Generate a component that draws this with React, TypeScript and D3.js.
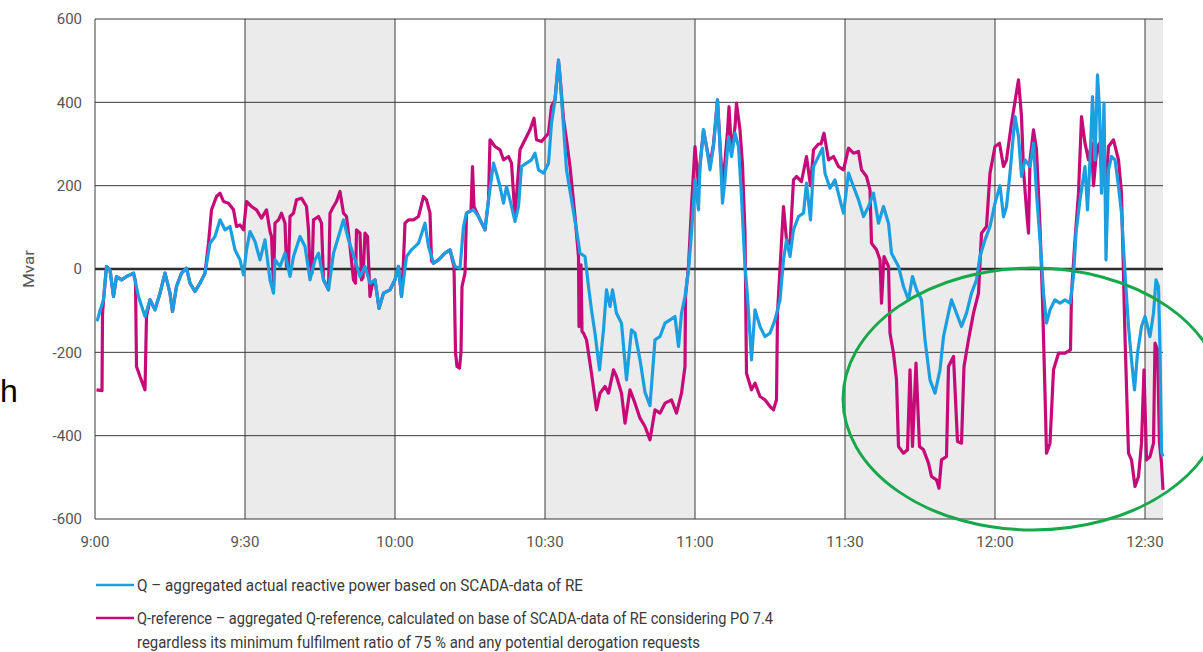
import React from "react";
import * as d3 from "d3";

// Time axis: minutes after 9:00
const tickMinutes = [0, 30, 60, 90, 120, 150, 180, 210];
const tickLabels = ["9:00", "9:30", "10:00", "10:30", "11:00", "11:30", "12:00", "12:30"];
const yTicks = [600, 400, 200, 0, -200, -400, -600];
const shadedBands: [number, number][] = [
  [30, 60],
  [90, 120],
  [150, 180],
  [210, 213.6],
];

// Q – aggregated actual reactive power [minute, Mvar]
const qActual: [number, number][] = [
  [0.3, -125], [0.5, -122], [1.0, -100], [1.7, -74], [2.3, 6], [3, -2], [3.7, -66], [4.3, -18],
  [5.3, -26], [6.3, -18], [7.0, -14], [7.7, -10], [8.7, -66], [10, -114], [11, -74], [12, -98],
  [13, -58], [14, -10], [15, -58], [15.5, -102], [16.3, -42], [17.3, -10], [18.3, 2], [19, -34],
  [20, -54], [21, -34], [22, -10], [23, 62], [24, 78], [25, 118], [26, 94], [27, 102], [28, 46],
  [29, 22], [29.7, -14], [30.3, 46], [31, 90], [32, 66], [33, 22], [34, 70], [35, -26], [35.7, -58],
  [36, 22], [37, 6], [38, 38], [39, -18], [39.7, 30], [41, 78], [42, 54], [43, -26], [44, 22],
  [44.7, 38], [45.7, -26], [46.7, -50], [47.7, 38], [48.7, 78], [49.7, 118], [50.7, 70], [52, 22],
  [53, -18], [54, 6], [55, -34], [56, -26], [56.8, -94], [57.7, -58], [59, -50], [60, -26],
  [60.7, 6], [61.3, -66], [62.3, 30], [63.3, 46], [64.7, 62], [66, 110], [66.7, 54], [67.7, 14],
  [68.7, 22], [70, 38], [71, 46], [72, 6], [73, 2], [73.7, 102], [74.3, 134], [75.7, 142],
  [76.7, 126], [78, 94], [78.7, 166], [79.7, 254], [80.3, 230], [81, 198], [81.7, 158], [82.3, 198],
  [83, 166], [84, 114], [84.7, 150], [85.3, 246], [86.3, 254], [87.3, 262], [88, 278], [88.7, 238],
  [89.7, 230], [90.7, 254], [91.3, 350], [92, 406], [92.7, 502], [93, 462], [93.7, 342], [94.3, 238],
  [95.3, 166], [96.3, 94], [97, 38], [98, 30], [98.7, -42], [99.3, -98], [100, -154], [100.9, -242],
  [101.7, -146], [102.3, -50], [103, -90], [103.5, -50], [104.3, -106], [105.3, -130], [106.3, -266],
  [107.3, -146], [108, -154], [109, -218], [110, -296], [111, -328], [112, -170], [113, -162],
  [114, -130], [115, -122], [116, -114], [116.7, -186], [117.3, -106], [118, -66], [118.7, -2],
  [119.3, 86], [120, 214], [120.7, 142], [121, 246], [121.7, 334], [122.3, 294], [123, 238],
  [123.7, 294], [124.5, 406], [125, 294], [125.5, 158], [126, 214], [126.7, 318], [127.3, 270],
  [128, 326], [128.7, 294], [129.3, 174], [130, 6], [130.5, -66], [131.3, -218], [132, -98],
  [133, -138], [134, -162], [135, -154], [136, -122], [137, -74], [137.7, 22], [138.3, 70], [139, 30],
  [139.7, 94], [140.7, 126], [141.7, 134], [142.3, 206], [143.1, 118], [143.7, 246], [144.7, 270],
  [145.5, 290], [146, 230], [147, 194], [148, 214], [149, 166], [149.7, 134], [150.7, 230],
  [151.7, 198], [152.7, 166], [153.7, 126], [154.7, 150], [155.7, 182], [156.7, 110], [157.7, 150],
  [158.7, 110], [159.3, 38], [160.7, 6], [161.7, -42], [162.7, -74], [163.5, -18], [164.3, -50],
  [165.3, -74], [166, -170], [167, -266], [168, -298], [169, -242], [169.7, -162], [170.7, -106],
  [171.3, -74], [172.3, -106], [173.3, -138], [174.3, -106], [175.3, -58], [176.3, -26], [177, 30],
  [178, 70], [179, 102], [180, 158], [181, 200], [181.7, 125], [182.3, 150], [183, 230], [184, 366],
  [184.7, 318], [185.3, 222], [186, 262], [187, 246], [187.7, 302], [188.3, 182], [188.9, 86],
  [189.3, 22], [189.7, -58], [190.3, -130], [191, -98], [192, -74], [193, -82], [194, -74],
  [195, -82], [195.7, -18], [196.2, 86], [197, 166], [198, 246], [198.5, 142], [199, 262],
  [199.5, 414], [200, 262], [200.5, 466], [200.9, 382], [201.3, 182], [201.8, 398], [202.2, 22],
  [202.7, 238], [203.3, 270], [204, 262], [204.7, 198], [205.3, 134], [206, -10], [206.7, -138],
  [207.3, -218], [207.9, -290], [208.5, -202], [209.3, -138], [210, -114], [211, -162],
  [211.7, -106], [212.2, -26], [212.7, -42], [213, -194], [213.3, -440], [213.6, -450],
];

// Q-reference – aggregated Q-reference [minute, Mvar]
const qReference: [number, number][] = [
  [0.3, -290], [1.4, -292], [1.5, -110], [1.7, -74], [2.3, 6], [3, -2], [3.7, -66], [4.3, -18],
  [5.3, -26], [6.3, -18], [7.0, -14], [7.7, -10], [8.1, -30], [8.3, -234], [9, -258], [10, -290],
  [10.3, -114], [11, -74], [12, -98], [13, -58], [14, -10], [15, -58], [15.5, -102], [16.3, -42],
  [17.3, -10], [18.3, 2], [19, -34], [20, -54], [21, -34], [22, -10], [22.7, 62], [23.3, 142],
  [24.3, 174], [25, 182], [25.7, 162], [26.7, 158], [27.7, 142], [28.3, 102], [29, 106], [29.7, 94],
  [30.3, 162], [31.3, 150], [32.3, 142], [33.3, 122], [34.3, 142], [35, 90], [35.3, 78], [35.7, -40],
  [36, 110], [36.7, 118], [37.3, 134], [38, 110], [38.3, 6], [38.7, 6], [39, 126], [39.7, 134],
  [40.3, 166], [41.3, 170], [42.3, 150], [42.7, 94], [43, -10], [43.4, -10], [43.7, 118],
  [44.7, 126], [45.3, 110], [45.7, -26], [46.7, -50], [47, 134], [47.7, 150], [48.3, 162],
  [49, 186], [49.7, 134], [50.3, 126], [51, 54], [51.7, -26], [52.1, -34], [52.3, 94], [53, 86],
  [53.3, -26], [53.6, -20], [54, 86], [54.5, 78], [55, -66], [55.4, -40], [56, -26], [56.8, -94],
  [57.7, -58], [59, -50], [60, -26], [60.7, 6], [61.3, -66], [61.7, 20], [62, 110], [62.7, 118],
  [63.7, 118], [64.7, 126], [65.7, 174], [66.3, 166], [67, 134], [67.3, 20], [67.7, 14], [68.7, 22],
  [70, 38], [71, 46], [71.8, 6], [72.1, -200], [72.4, -234], [72.9, -238], [73.2, -200],
  [73.4, -42], [74, -10], [74.3, 134], [75.2, 140], [75.5, 246], [75.8, 150], [76.7, 126], [78, 94],
  [78.7, 166], [79, 310], [80, 294], [81, 286], [81.7, 262], [82.7, 270], [83.3, 254], [84, 126],
  [85, 286], [86, 310], [87, 334], [87.8, 362], [88.3, 310], [89.3, 306], [90.7, 326], [91.3, 390],
  [92, 406], [92.7, 498], [93, 462], [93.7, 360], [94.3, 310], [95, 246], [96, 126], [96.7, 30],
  [96.8, -138], [97.2, 10], [97.4, -150], [97.7, -154], [98.3, -170], [99.3, -250], [100.3, -338],
  [101, -298], [102, -282], [102.7, -298], [103.7, -242], [104.3, -258], [105.3, -298], [106, -370],
  [107, -290], [108, -322], [109, -358], [110, -378], [111, -410], [112, -338], [113, -346],
  [114, -322], [115.3, -314], [116.3, -346], [117.3, -298], [118, -234], [118.1, -66], [118.7, 6],
  [119.3, 150], [120, 294], [120.7, 200], [121, 250], [121.7, 334], [122.3, 294], [123, 250],
  [123.7, 300], [124.5, 406], [125, 300], [125.5, 200], [126, 260], [126.5, 330], [126.8, 390],
  [127.3, 280], [128, 340], [128.3, 398], [129, 334], [129.5, 250], [130, 86], [130.3, -250],
  [131.3, -290], [132, -274], [133, -306], [134, -314], [135, -330], [135.7, -338], [136.3, -314],
  [136.5, -106], [137.7, 150], [138.3, 70], [139, 60], [139.7, 214], [140.3, 222], [141.3, 210],
  [142.3, 270], [143.1, 200], [143.7, 286], [144.7, 300], [145.2, 300], [145.8, 326], [146.7, 262],
  [147.7, 270], [148.7, 246], [149.7, 238], [150.7, 290], [151.7, 278], [152.7, 282], [153.3, 238],
  [154.3, 222], [155, 190], [155.3, 62], [156.3, 46], [157, 22], [157.3, -82], [157.8, 30],
  [158.7, 6], [159, -154], [159.7, -202], [160.3, -266], [160.7, -426], [161.7, -442],
  [162.5, -434], [163, -242], [163.5, -426], [164.2, -226], [164.9, -426], [165.7, -434],
  [166.7, -466], [167.3, -498], [168.3, -506], [168.8, -526], [169.3, -458], [170.3, -450],
  [170.7, -234], [171.7, -210], [172.5, -414], [173.3, -418], [173.8, -234], [174.7, -170],
  [175.7, -106], [176.7, -58], [177.3, 86], [178.3, 102], [179, 230], [180, 294], [180.9, 302],
  [181.7, 246], [182.3, 262], [183.3, 350], [184.7, 454], [185.3, 366], [185.7, 238], [186.3, 142],
  [186.7, 86], [187, 262], [187.7, 334], [188.3, 286], [189, 102], [189.5, -74], [190, -298],
  [190.3, -442], [191, -418], [191.7, -242], [192.7, -202], [194, -202], [195.1, -194], [195.3, -58],
  [196, 70], [196.7, 182], [197.3, 366], [198, 302], [198.7, 262], [199.3, 302], [199.7, 200],
  [200.3, 280], [200.8, 300], [201.5, 220], [202.2, 200], [202.7, 294], [203.7, 310], [204.7, 262],
  [205.3, 182], [206, -162], [206.7, -442], [207.3, -458], [208, -522], [208.7, -498], [209.3, -418],
  [209.8, -242], [210.3, -458], [211, -450], [211.7, -418], [212, -178], [212.5, -194],
  [212.9, -418], [213.3, -466], [213.6, -530],
];

const legendLines = [
  "Q – aggregated actual reactive power based on SCADA-data of RE",
  "Q-reference – aggregated Q-reference, calculated on base of SCADA-data of RE considering PO 7.4",
  "regardless its minimum fulfilment ratio of 75 % and any potential derogation requests",
];
// rendered widths of the condensed legend lines
const legendWidths = [446, 636, 563];

const BLUE = "#1c9fe0";
const MAGENTA = "#c60a78";
const GRID = "#3a3a3a";
const LABEL_FONT = "'Liberation Sans Narrow', 'Roboto', 'Liberation Sans', sans-serif";

export default function App() {
  const width = 1203;
  const height = 652;
  const left = 95;
  const right = 1163;
  const top = 19;
  const bottom = 519;

  const x = d3.scaleLinear().domain([0, 213.6]).range([left, right]);
  const y = d3.scaleLinear().domain([-600, 600]).range([bottom, top]);

  const line = d3
    .line<[number, number]>()
    .x((d) => x(d[0]))
    .y((d) => y(d[1]));

  return (
    <svg
      width={width}
      height={height}
      style={{ position: "absolute", left: 0, top: 0, background: "#fff" }}
    >
      {/* shaded half-hour bands */}
      {shadedBands.map(([a, b], i) => (
        <rect key={i} x={x(a)} y={top} width={x(b) - x(a)} height={bottom - top} fill="#ebebeb" />
      ))}

      {/* horizontal grid */}
      {yTicks.map((t) => (
        <line
          key={t}
          x1={left}
          x2={right}
          y1={y(t)}
          y2={y(t)}
          stroke={t === 0 ? "#2e2e2e" : GRID}
          strokeWidth={t === 0 ? 2.4 : 1}
        />
      ))}
      {/* vertical grid */}
      {tickMinutes.map((m) => (
        <line key={m} x1={x(m)} x2={x(m)} y1={top} y2={bottom} stroke={GRID} strokeWidth={1} />
      ))}

      {/* y tick labels */}
      {yTicks.map((t) => (
        <text
          key={t}
          x={82}
          y={y(t)}
          dy="0.36em"
          textAnchor="end"
          fontFamily={LABEL_FONT}
          fontSize={15}
          fill="#555"
        >
          {t}
        </text>
      ))}
      <text
        transform={`translate(34,${y(0)}) rotate(-90)`}
        textAnchor="middle"
        fontFamily={LABEL_FONT}
        fontSize={14}
        fill="#555"
        textLength={38}
        lengthAdjust="spacingAndGlyphs"
      >
        Mvar
      </text>

      {/* x tick labels */}
      {tickMinutes.map((m, i) => (
        <text
          key={m}
          x={x(m)}
          y={547}
          textAnchor="middle"
          fontFamily={LABEL_FONT}
          fontSize={15}
          fill="#555"
        >
          {tickLabels[i]}
        </text>
      ))}

      {/* series */}
      <path
        d={line(qReference) || ""}
        fill="none"
        stroke={MAGENTA}
        strokeWidth={3.2}
        strokeLinejoin="round"
      />
      <path
        d={line(qActual) || ""}
        fill="none"
        stroke={BLUE}
        strokeWidth={3.2}
        strokeLinejoin="round"
      />

      {/* legend */}
      <line x1={96} x2={134} y1={585} y2={585} stroke={BLUE} strokeWidth={2.5} />
      <text
        x={137}
        y={591}
        fontFamily={LABEL_FONT}
        fontSize={17}
        fill="#3a3a3a"
        textLength={legendWidths[0]}
        lengthAdjust="spacingAndGlyphs"
      >
        {legendLines[0]}
      </text>
      <line x1={96} x2={134} y1={618} y2={618} stroke={MAGENTA} strokeWidth={2.5} />
      <text
        x={137}
        y={624}
        fontFamily={LABEL_FONT}
        fontSize={17}
        fill="#3a3a3a"
        textLength={legendWidths[1]}
        lengthAdjust="spacingAndGlyphs"
      >
        {legendLines[1]}
      </text>
      <text
        x={137}
        y={648}
        fontFamily={LABEL_FONT}
        fontSize={17}
        fill="#3a3a3a"
        textLength={legendWidths[2]}
        lengthAdjust="spacingAndGlyphs"
      >
        {legendLines[2]}
      </text>

      {/* highlight around the late-morning deviations */}
      <ellipse cx={1033} cy={399} rx={190} ry={131} fill="none" stroke="#18a84b" strokeWidth={3} />

      {/* fragment of surrounding slide text */}
      <text x={0} y={402} fontFamily="'Liberation Sans', Arial, sans-serif" fontSize={32} fill="#000">
        h
      </text>
    </svg>
  );
}
